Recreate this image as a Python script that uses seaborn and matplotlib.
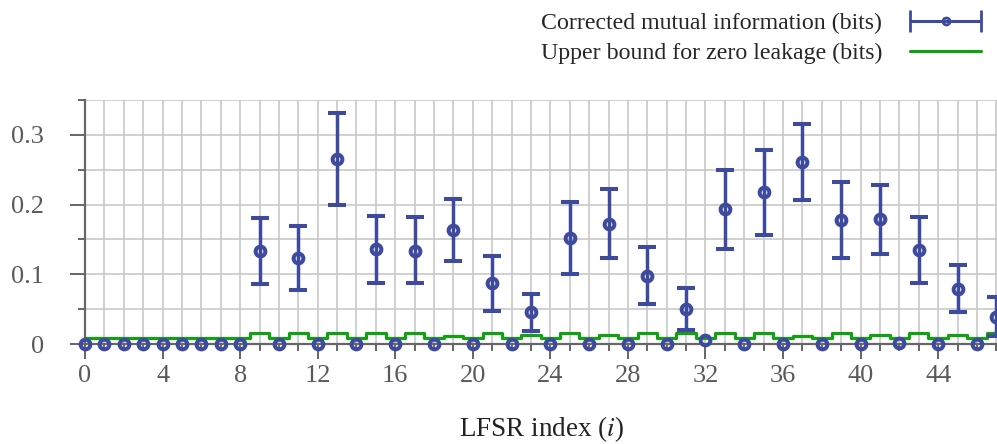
import numpy as np
import seaborn as sns
import matplotlib
matplotlib.use("Agg")
from matplotlib import pyplot as plt
from matplotlib.ticker import MultipleLocator, FuncFormatter
from matplotlib.legend_handler import HandlerErrorbar

# values
lfsr_index = list(range(48))
mutual_info = [0, 0, 0, 0, 0, 0, 0, 0, 0, 0.133, 0, 0.124, 0, 0.265, 0, 0.136,
               0, 0.134, 0, 0.164, 0, 0.087, 0, 0.046, 0, 0.152, 0, 0.172, 0, 0.098, 0, 0.050,
               0.006, 0.193, 0, 0.218, 0, 0.261, 0, 0.178, 0, 0.179, 0.002, 0.135, 0, 0.079, 0, 0.039]
ci_low = [0, 0, 0, 0, 0, 0, 0, 0, 0, 0.086, 0, 0.078, 0, 0.199, 0, 0.088,
          0, 0.087, 0, 0.119, 0, 0.048, 0, 0.019, 0, 0.101, 0, 0.124, 0, 0.057, 0, 0.020,
          0.006, 0.136, 0, 0.157, 0, 0.206, 0, 0.123, 0, 0.129, 0.002, 0.087, 0, 0.046, 0, 0.012]
ci_high = [0, 0, 0, 0, 0, 0, 0, 0, 0, 0.181, 0, 0.169, 0, 0.332, 0, 0.184,
           0, 0.182, 0, 0.208, 0, 0.126, 0, 0.072, 0, 0.204, 0, 0.222, 0, 0.139, 0, 0.080,
           0.006, 0.249, 0, 0.278, 0, 0.316, 0, 0.233, 0, 0.228, 0.002, 0.182, 0, 0.113, 0, 0.067]
upper_bound = [0.008, 0.008, 0.008, 0.008, 0.008, 0.008, 0.008, 0.008, 0.008, 0.016, 0.008, 0.016,
               0.008, 0.016, 0.008, 0.016, 0.008, 0.016, 0.008, 0.012, 0.008, 0.016, 0.008, 0.013,
               0.008, 0.016, 0.008, 0.013, 0.008, 0.016, 0.008, 0.016, 0.008, 0.016, 0.008, 0.016,
               0.008, 0.011, 0.008, 0.016, 0.008, 0.013, 0.008, 0.016, 0.008, 0.013, 0.008, 0.016]

mi_label = "Corrected mutual information (bits)"
bound_label = "Upper bound for zero leakage (bits)"

blue = "#3d4a9e"
green = "#14a014"
grey = "#5a5a5a"

sns.set_theme(style="whitegrid")
plt.rcParams["font.family"] = ["Liberation Serif", "DejaVu Serif"]
plt.rcParams["mathtext.fontset"] = "stix"

fig = plt.figure(figsize=(9.97, 4.44), dpi=100)
ax = fig.add_axes([0.0853, 0.2252, 0.915, 0.5495])

# step line for the bound
sns.lineplot(x=lfsr_index, y=upper_bound, drawstyle="steps-mid", color=green, lw=2.3,
             ax=ax, legend=False, zorder=3)

# error bars (only where the interval is non-empty)
mi = np.array(mutual_info)
lo = np.array(ci_low)
hi = np.array(ci_high)
has_err = hi > lo
err = np.vstack([np.where(has_err, mi - lo, np.nan), np.where(has_err, hi - mi, np.nan)])
eb = ax.errorbar(lfsr_index, mi, yerr=err, fmt="o", color=blue, ms=7, mew=2.9, mfc="none",
                 elinewidth=2.5, capsize=6.3, capthick=2.5, zorder=4)
for art in eb.get_children():
    art.set_clip_on(False)

# proxy with horizontal bar for the legend
proxy = ax.errorbar([-10], [-10], xerr=[1], fmt="o", color=blue, ms=5, mew=2.0, mfc="none",
                    elinewidth=2.2, capsize=8, capthick=2.2)
green_line = ax.get_lines()[0]

ax.set_xlim(0, 47.05)
ax.set_ylim(0, 0.35)
ax.xaxis.set_major_locator(MultipleLocator(4))
ax.xaxis.set_minor_locator(MultipleLocator(1))
ax.yaxis.set_major_locator(MultipleLocator(0.1))
ax.yaxis.set_minor_locator(MultipleLocator(0.05))
ax.yaxis.set_major_formatter(FuncFormatter(lambda v, p: "0" if abs(v) < 1e-9 else f"{v:.1f}"))

ax.grid(which="both", color="#c8c8c8", lw=1.2)
ax.set_axisbelow(True)
for side in ["top", "right"]:
    ax.spines[side].set_visible(False)
for side in ["left", "bottom"]:
    ax.spines[side].set_color("#666666")
    ax.spines[side].set_linewidth(1.6)
    ax.spines[side].set_zorder(2)

ax.tick_params(which="major", direction="out", length=10.8, width=1.4, color="#666666",
               labelsize=19, labelcolor=grey, bottom=True, left=True)
ax.tick_params(which="minor", direction="out", length=5, width=1.4, color="#666666",
               bottom=True, left=True)
ax.tick_params(axis="x", which="major", pad=4)
ax.tick_params(axis="y", which="major", pad=19)

ax.set_xlabel(r"LFSR index ($i$)", fontsize=19.5, color="#222222", labelpad=20)
ax.set_ylabel("")

leg = fig.legend([proxy, green_line], [mi_label, bound_label], loc="upper right",
                 bbox_to_anchor=(1.006, 1.02), frameon=False, markerfirst=False,
                 fontsize=17.2, handlelength=3.0, handletextpad=1.15, labelspacing=0.33,
                 handler_map={proxy: HandlerErrorbar(xerr_size=1.5)})

fig.savefig("out.png", dpi=100)
